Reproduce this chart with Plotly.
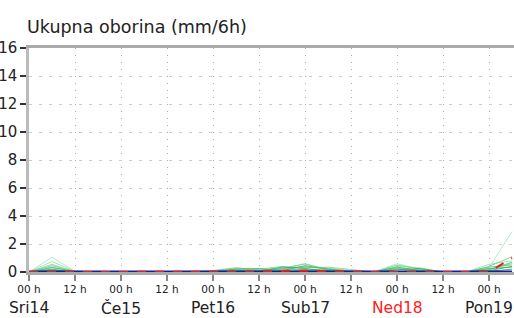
import plotly.graph_objects as go

# ---- data ----
hours = [0, 6, 12, 18, 24, 30, 36, 42, 48, 54, 60, 66, 72, 78, 84, 90, 96, 102, 108, 114, 120, 126]

members = [
    [0, 1.05, 0.05, 0, 0, 0, 0, 0, 0.05, 0.10, 0.05, 0.20, 0.40, 0.30, 0.10, 0, 0.60, 0.20, 0, 0, 0.30, 2.90],
    [0, 0.75, 0.05, 0, 0, 0, 0, 0, 0.00, 0.25, 0.10, 0.30, 0.55, 0.20, 0.10, 0, 0.40, 0.30, 0, 0, 0.55, 0.80],
    [0, 0.55, 0.00, 0, 0, 0, 0, 0, 0.05, 0.20, 0.20, 0.40, 0.30, 0.35, 0.20, 0, 0.30, 0.10, 0, 0, 0.20, 0.60],
    [0, 0.45, 0.05, 0, 0, 0, 0, 0, 0.00, 0.15, 0.10, 0.20, 0.60, 0.10, 0.00, 0, 0.50, 0.20, 0, 0, 0.40, 1.10],
    [0, 0.35, 0.00, 0, 0, 0, 0, 0, 0.10, 0.30, 0.15, 0.25, 0.35, 0.25, 0.05, 0, 0.25, 0.15, 0, 0, 0.35, 0.50],
    [0, 0.30, 0.05, 0, 0, 0, 0, 0, 0.00, 0.05, 0.05, 0.15, 0.20, 0.15, 0.10, 0, 0.20, 0.05, 0, 0, 0.15, 0.70],
    [0, 0.20, 0.00, 0, 0, 0, 0, 0, 0.05, 0.20, 0.25, 0.10, 0.45, 0.20, 0.00, 0, 0.35, 0.10, 0, 0, 0.25, 0.35],
    [0, 0.15, 0.00, 0, 0, 0, 0, 0, 0.00, 0.10, 0.05, 0.35, 0.25, 0.05, 0.05, 0, 0.15, 0.25, 0, 0, 0.10, 0.40],
    [0, 0.10, 0.00, 0, 0, 0, 0, 0, 0.00, 0.00, 0.00, 0.05, 0.10, 0.10, 0.00, 0, 0.05, 0.00, 0, 0, 0.05, 0.20],
]
member_colors = ["#a8e6b8", "#98dfab", "#86d69d", "#76cf91", "#66c786", "#56bf7a", "#48b66f", "#3cac64", "#32a25b"]

deterministic = [0, 0, 0, 0, 0, 0, 0, 0, 0, 0, 0.02, 0.08, 0.10, 0.05, 0, 0, 0, 0, 0, 0, 0, 1.0]
control = [0, 0, 0, 0, 0, 0, 0, 0, 0, 0, 0, 0, 0, 0, 0, 0, 0, 0, 0, 0, 0, 0]

tick_hours = [0, 12, 24, 36, 48, 60, 72, 84, 96, 108, 120]
tick_text = ["00 h", "12 h", "00 h", "12 h", "00 h", "12 h", "00 h", "12 h", "00 h", "12 h", "00 h"]
day_hours = [0, 24, 48, 72, 96, 120]
day_labels = ["Sri14", "Če15", "Pet16", "Sub17", "Ned18", "Pon19"]
day_colors = ["#222222", "#222222", "#222222", "#222222", "#ff2020", "#222222"]
y_ticks = [0, 2, 4, 6, 8, 10, 12, 14, 16]

fig = go.Figure()
for vals, col in zip(members, member_colors):
    fig.add_trace(go.Scatter(x=hours, y=vals, mode="lines",
                             line=dict(color=col, width=1), opacity=0.85,
                             showlegend=False, hoverinfo="skip"))
fig.add_trace(go.Scatter(x=hours, y=control, mode="lines",
                         line=dict(color="#1c1c9c", width=3), showlegend=False))
fig.add_trace(go.Scatter(x=hours, y=deterministic, mode="lines",
                         line=dict(color="#e82020", width=2, dash="dash"), showlegend=False))

for h, lab, col in zip(day_hours, day_labels, day_colors):
    fig.add_annotation(x=h, xref="x", y=0, yref="paper", yanchor="middle", yshift=-36,
                       text=lab, showarrow=False,
                       font=dict(family="DejaVu Sans", size=15.5, color=col))

fig.add_annotation(x=0, xref="paper", xanchor="left", xshift=-4, y=1, yref="paper",
                   yanchor="middle", yshift=21, text="Ukupna oborina (mm/6h)",
                   showarrow=False, font=dict(family="DejaVu Sans", size=17.5, color="#222222"))

fig.update_layout(
    width=514, height=318,
    margin=dict(l=29, r=0, t=48, b=46, autoexpand=False),
    paper_bgcolor="white", plot_bgcolor="white",
    font=dict(family="DejaVu Sans", color="#222222"),
    xaxis=dict(range=[0, 126.5], tickmode="array", tickvals=tick_hours, ticktext=tick_text,
               ticks="outside", ticklen=6, tickcolor="#888888", tickwidth=1.5,
               tickfont=dict(size=10.5, color="#222222"),
               showgrid=True, gridcolor="#aaaaaa", griddash="1px,6px", gridwidth=1,
               showline=True, linecolor="#aaaaaa", linewidth=2.5, mirror=True,
               zeroline=False, fixedrange=True, automargin=False),
    yaxis=dict(range=[0, 16], tickmode="array", tickvals=y_ticks,
               ticks="outside", ticklen=6, tickcolor="#333333", tickwidth=1.5,
               tickfont=dict(size=15, color="#222222"),
               showgrid=True, gridcolor="#cccccc", griddash="3px,7px", gridwidth=1,
               showline=True, linecolor="#bbbbbb", linewidth=2.5,
               zeroline=False, fixedrange=True, automargin=False),
)

fig.write_html("out.html", config={"displayModeBar": False},
               post_script="document.body.style.margin='0';document.body.style.overflow='hidden';")
